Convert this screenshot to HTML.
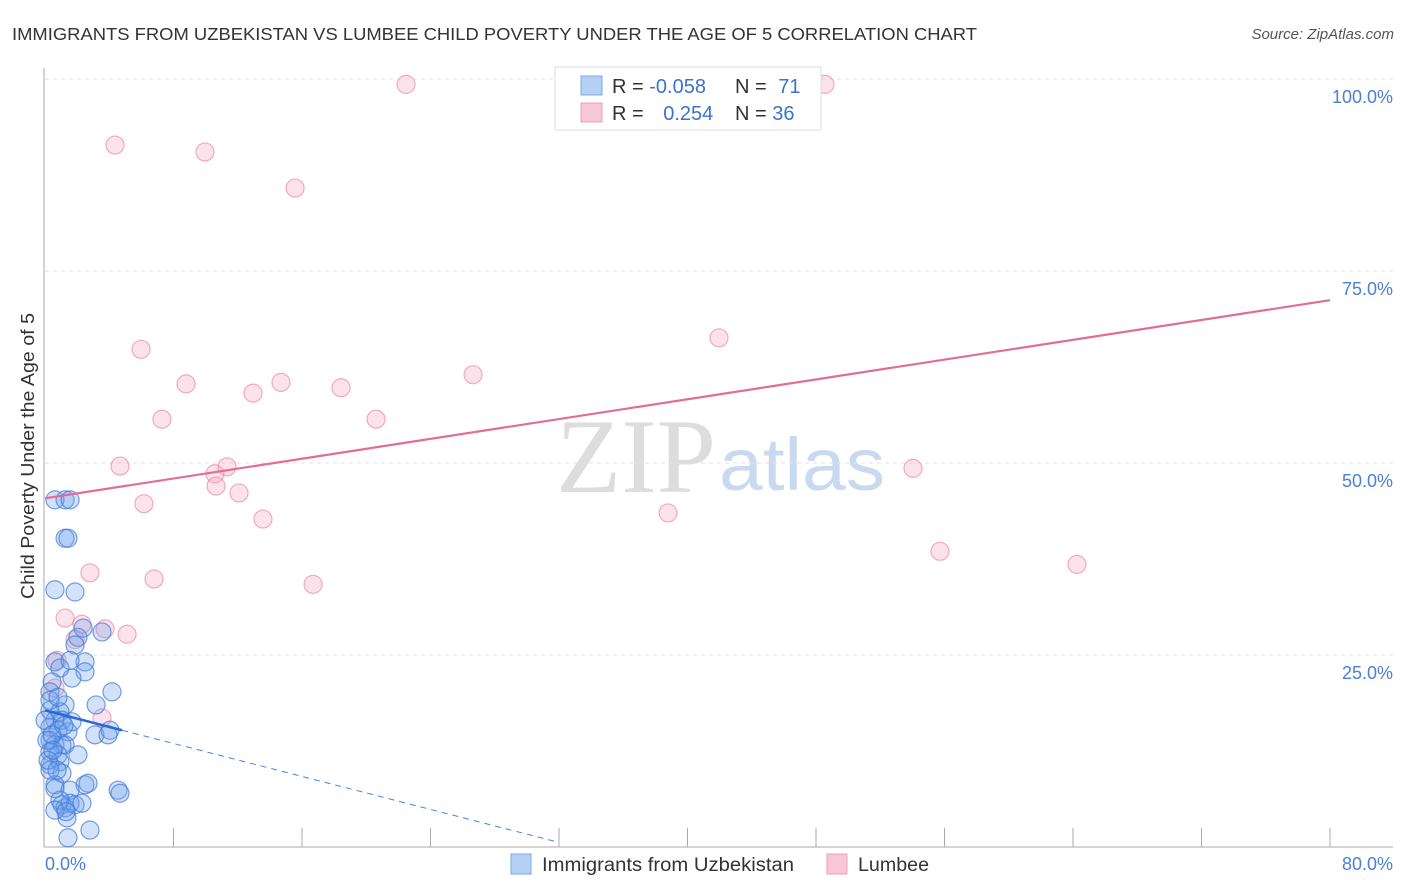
<!DOCTYPE html>
<html><head><meta charset="utf-8"><style>
body{margin:0;background:#fff;font-family:"Liberation Sans",sans-serif;}
#wrap{position:relative;width:1406px;height:892px;overflow:hidden;}
</style></head><body>
<div id="wrap">
<svg id="svg" width="1406" height="892" xmlns="http://www.w3.org/2000/svg">
<text x="12" y="40" font-size="17.5" fill="#333" textLength="965" lengthAdjust="spacingAndGlyphs">IMMIGRANTS FROM UZBEKISTAN VS LUMBEE CHILD POVERTY UNDER THE AGE OF 5 CORRELATION CHART</text>
<text x="1394" y="39" font-size="15" fill="#555" font-style="italic" text-anchor="end">Source: ZipAtlas.com</text>
<text x="716" y="492" font-size="106" fill="#ddd" text-anchor="end" font-family="Liberation Serif,serif" textLength="160" lengthAdjust="spacingAndGlyphs">ZIP</text>
<text x="719" y="490" font-size="74" fill="#c9daf0" textLength="166" lengthAdjust="spacingAndGlyphs">atlas</text>
<g id="grid"></g>
<g id="axes"></g>
<g id="marks"></g>
<text transform="translate(34,456) rotate(-90)" font-size="18" fill="#333" text-anchor="middle" textLength="286" lengthAdjust="spacingAndGlyphs">Child Poverty Under the Age of 5</text>
<g>
<rect x="555" y="67" width="266" height="63" fill="#fff" stroke="#ddd"/>
<rect x="581" y="76" width="21" height="19" fill="#b4d0f5" stroke="#7fa8e0"/>
<rect x="581" y="103" width="21" height="19" fill="#f9c6d6" stroke="#eba0b9"/>
<text x="612" y="93" font-size="20" fill="#333">R = <tspan fill="#3a73cf">-0.058</tspan></text>
<text x="735" y="93" font-size="20" fill="#333">N = <tspan fill="#3a73cf" dx="6">71</tspan></text>
<text x="612" y="120" font-size="20" fill="#333">R = <tspan fill="#3a73cf" dx="14">0.254</tspan></text>
<text x="735" y="120" font-size="20" fill="#333">N = <tspan fill="#3a73cf">36</tspan></text>
</g>
<g>
<rect x="511" y="854" width="20" height="20" fill="#b4d0f5" stroke="#7fa8e0"/>
<text x="542" y="871" font-size="19" fill="#333" textLength="252" lengthAdjust="spacingAndGlyphs">Immigrants from Uzbekistan</text>
<rect x="827" y="854" width="20" height="20" fill="#f9c6d6" stroke="#eba0b9"/>
<text x="858" y="871" font-size="19" fill="#333" textLength="71" lengthAdjust="spacingAndGlyphs">Lumbee</text>
</g>
</svg>
</div>
<script>
const yTicks=[25,50,75,100];
const yTickLabels=["25.0%","50.0%","75.0%","100.0%"];
const xTicks=[8,16,24,32,40,48,56,64,72,80];
const xEndLabels=["0.0%","80.0%"];
const blueX=[.62,1.25,1.56,1.25,1.43,.62,1.87,2.37,2.05,1.87,3.55,.62,.93,2.49,2.49,1.68,.44,.31,4.17,3.18,1.25,.31,.93,.62,1.06,.31,.81,1.43,3.11,4.05,.31,.62,1.06,1.25,.31,.81,.93,.31,1.06,.62,2.49,2.68,4.55,4.67,1.56,1.06,1.25,1.56,1.87,2.30,1.37,2.80,1.43,.93,.31,.81,1.68,2.05,.31,.62,1.31,3.92,1.56,0,.12,.19,.44,.75,.50,1.18,.62];
const blueY=[45.2,45.2,45.2,40.2,40.2,33.5,33.2,28.5,27.3,26.3,28.0,24.1,23.3,24.1,22.8,22.0,21.5,20.2,20.2,18.5,18.5,17.8,17.6,16.5,16.5,15.6,15.2,15.0,14.6,15.2,13.9,13.3,13.3,13.3,12.4,12.0,11.1,10.7,9.6,8.1,8.1,8.3,7.4,7.0,7.4,5.5,5.1,5.7,5.5,5.7,3.8,2.2,1.2,6.1,19.1,19.5,16.3,12.0,10.0,4.8,4.6,14.6,24.3,16.5,13.9,11.3,14.6,10.0,12.6,15.8,7.6];
const pinkX=[4.36,9.96,15.57,22.48,48.56,5.98,8.78,14.69,18.43,12.95,26.65,7.28,20.61,41.96,4.67,10.58,11.33,10.65,12.08,6.16,13.57,38.79,54.04,55.72,64.25,2.80,6.79,16.69,1.25,2.30,5.11,3.74,1.87,.75,.62,3.55];
const pinkY=[91.4,90.5,85.8,99.3,99.3,64.8,60.3,60.5,59.8,59.1,61.5,55.7,55.7,66.3,49.6,48.6,49.5,47.0,46.1,44.7,42.7,43.5,49.3,38.5,36.8,35.7,34.9,34.2,29.8,29.0,27.7,28.4,27.0,24.3,20.7,16.8];
const pinkTrend=[[0,45.4],[80,71.2]];
const blueTrendSolid=[[0,17.8],[4.8,15.2]];
const blueTrendDash=[[4.8,15.2],[32,0.6]];
const NS="http://www.w3.org/2000/svg";
const X=v=>45+v/80*1285, Y=v=>847-v/25*192;
function mk(tag,attrs,parent){const e=document.createElementNS(NS,tag);for(const k in attrs)e.setAttribute(k,attrs[k]);parent.appendChild(e);return e;}
const grid=document.getElementById('grid'),axes=document.getElementById('axes'),marks=document.getElementById('marks');
yTicks.forEach((t,i)=>{
 const l=mk('line',{x1:45,x2:1393,y1:Y(t),y2:Y(t),stroke:'#e2e2e2','stroke-dasharray':'4,4'},grid);
 
 
 const tx=mk('text',{x:1393,y:Y(t)+24,'font-size':18,fill:'#4a80d6','text-anchor':'end'},axes);
 tx.textContent=yTickLabels[i];
 
 
});
const ya=mk('line',{x1:44,x2:44,y1:68,y2:847,stroke:'#aaa'},axes);


const xa=mk('line',{x1:44,x2:1393,y1:847,y2:847,stroke:'#aaa'},axes);


xTicks.forEach(t=>{
 const l=mk('line',{x1:X(t),x2:X(t),y1:828,y2:847,stroke:'#aaa'},axes);
 
 
});
const xl0=mk('text',{x:45,y:870,'font-size':18,fill:'#4a80d6'},axes);xl0.textContent=xEndLabels[0];


const xl1=mk('text',{x:1393,y:870,'font-size':18,fill:'#4a80d6','text-anchor':'end'},axes);xl1.textContent=xEndLabels[1];


pinkX.forEach((x,i)=>{
 const c=mk('circle',{cx:X(x),cy:Y(pinkY[i]),r:9,fill:'rgba(244,160,190,0.3)',stroke:'rgba(232,130,165,0.65)','stroke-width':1.2},marks);
 
 
});
blueX.forEach((x,i)=>{
 const c=mk('circle',{cx:X(x),cy:Y(blueY[i]),r:9,fill:'rgba(110,160,235,0.3)',stroke:'rgba(60,120,215,0.7)','stroke-width':1.2},marks);
 
 
});
const pt=mk('line',{x1:X(pinkTrend[0][0]),y1:Y(pinkTrend[0][1]),x2:X(pinkTrend[1][0]),y2:Y(pinkTrend[1][1]),stroke:'#e46b96','stroke-width':2.2},marks);


const bs=mk('line',{x1:X(blueTrendSolid[0][0]),y1:Y(blueTrendSolid[0][1]),x2:X(blueTrendSolid[1][0]),y2:Y(blueTrendSolid[1][1]),stroke:'#2a6ad6','stroke-width':2.5},marks);


const bd=mk('line',{x1:X(blueTrendDash[0][0]),y1:Y(blueTrendDash[0][1]),x2:X(blueTrendDash[1][0]),y2:Y(blueTrendDash[1][1]),stroke:'#4a82dc','stroke-width':1,'stroke-dasharray':'6,5'},marks);


</script>
</body></html>
